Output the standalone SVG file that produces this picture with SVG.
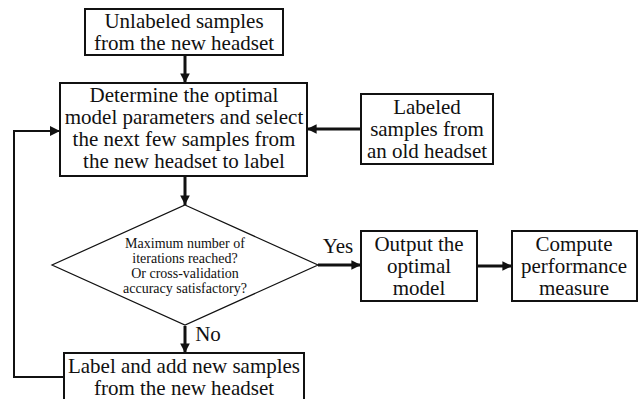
<svg xmlns="http://www.w3.org/2000/svg" width="638" height="399" viewBox="0 0 638 399" font-family="'Liberation Serif', 'Times New Roman', Times, 'DejaVu Serif', serif">
<style>
.box{fill:#fff;stroke:#111;stroke-width:2}
.dia{fill:#fff;stroke:#111;stroke-width:1.2}
.t{font-family:'Liberation Serif','Times New Roman',Times,'DejaVu Serif',serif;font-size:21px;fill:#111;text-anchor:middle}
.s{font-family:'Liberation Serif','Times New Roman',Times,'DejaVu Serif',serif;font-size:14px;fill:#111;text-anchor:middle}
.c{fill:none;stroke:#111;stroke-width:3}
.f{fill:none;stroke:#111;stroke-width:2}
</style>
<defs>
<marker id="ah" viewBox="0 0 10 10" refX="10" refY="5" markerWidth="3.2" markerHeight="3.2" orient="auto" markerUnits="strokeWidth">
<path d="M0,0 L10,5 L0,10 z" fill="#111"/>
</marker>
<marker id="ah2" viewBox="0 0 10 10" refX="10" refY="5" markerWidth="5" markerHeight="5" orient="auto" markerUnits="strokeWidth">
<path d="M0,0 L10,5 L0,10 z" fill="#111"/>
</marker>
</defs>
<g id="connectors">
<line class="c" x1="185" y1="56" x2="185" y2="83" marker-end="url(#ah)"/>
<line class="c" x1="361" y1="129" x2="307" y2="129" marker-end="url(#ah)"/>
<line class="c" x1="185" y1="177" x2="185" y2="205" marker-end="url(#ah)"/>
<line class="c" x1="318" y1="265" x2="361" y2="265" marker-end="url(#ah)"/>
<line class="c" x1="477" y1="266" x2="512" y2="266" marker-end="url(#ah)"/>
<line class="c" x1="185" y1="326" x2="185" y2="353" marker-end="url(#ah)"/>
<polyline class="f" points="64,377 14,377 14,131 60,131" marker-end="url(#ah2)"/>
<text class="t" x="338" y="253">Yes</text>
<text class="t" x="208" y="341">No</text>
</g>
<g id="unlabeled">
<rect class="box" x="85" y="9" width="198" height="46"/>
<text class="t" x="184" y="28">Unlabeled samples</text>
<text class="t" x="184" y="50">from the new headset</text>
</g>
<g id="determine">
<rect class="box" x="60" y="83" width="247" height="93"/>
<text class="t" x="184" y="102">Determine the optimal</text>
<text class="t" x="184" y="124">model parameters and select</text>
<text class="t" x="184" y="146">the next few samples from</text>
<text class="t" x="184" y="168">the new headset to label</text>
</g>
<g id="labeled">
<rect class="box" x="361" y="94" width="132" height="70"/>
<text class="t" x="427" y="114">Labeled</text>
<text class="t" x="427" y="136">samples from</text>
<text class="t" x="427" y="158">an old headset</text>
</g>
<g id="decision">
<polygon class="dia" points="185,205 318,265 185,325 52,265"/>
<text class="s" x="185" y="248">Maximum number of</text>
<text class="s" x="185" y="263">iterations reached?</text>
<text class="s" x="185" y="278">Or cross-validation</text>
<text class="s" x="185" y="293">accuracy satisfactory?</text>
</g>
<g id="output">
<rect class="box" x="361" y="231" width="116" height="70"/>
<text class="t" x="419" y="251">Output the</text>
<text class="t" x="419" y="273">optimal</text>
<text class="t" x="419" y="295">model</text>
</g>
<g id="compute">
<rect class="box" x="512" y="231" width="125" height="70"/>
<text class="t" x="574" y="251">Compute</text>
<text class="t" x="574" y="273">performance</text>
<text class="t" x="574" y="295">measure</text>
</g>
<g id="labeladd">
<rect class="box" x="64" y="353" width="240" height="60"/>
<text class="t" x="184" y="373">Label and add new samples</text>
<text class="t" x="184" y="395">from the new headset</text>
</g>
</svg>
